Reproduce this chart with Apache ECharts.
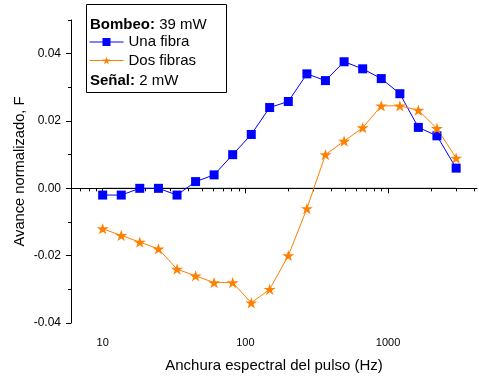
<!DOCTYPE html>
<html>
<head>
<meta charset="utf-8">
<script src="https://cdn.jsdelivr.net/npm/echarts@6/dist/echarts.min.js"></script>
<style>html,body{margin:0;padding:0;background:#fff}#c{width:479px;height:378px}</style>
</head>
<body>
<div id="c"></div>
<script>
var freqs = [10, 13.5, 18.2, 24.6, 33.2, 44.8, 60.4, 81.5, 110, 148, 200, 270, 364, 492, 664, 896, 1210, 1630, 2200, 3000];
var unaFibra = [-0.002, -0.002, 0.000, 0.000, -0.002, 0.002, 0.004, 0.010, 0.016, 0.024, 0.0258, 0.034, 0.032, 0.0376, 0.0355, 0.0326, 0.0281, 0.0181, 0.0156, 0.006];
var dosFibras = [-0.012, -0.014, -0.016, -0.018, -0.024, -0.026, -0.028, -0.028, -0.034, -0.030, -0.020, -0.006, 0.010, 0.014, 0.018, 0.0245, 0.0245, 0.0232, 0.0178, 0.009];
var zeroLineX = [10, 3000];
var zeroLineY = [0, 0];
var xMajorTicks = [10, 100, 1000];
var xMinorTicks = [6, 7, 8, 9, 20, 30, 40, 50, 60, 70, 80, 90, 200, 300, 400, 500, 600, 700, 800, 900, 2000, 3000, 4000];
var yMajorTicks = [-0.04, -0.02, 0, 0.02, 0.04];
var yMinorTicks = [-0.03, -0.01, 0.01, 0.03, 0.05];
var seriesNames = ['Una fibra', 'Dos fibras'];

function pairs(xs, ys) { return xs.map(function (x, i) { return [x, ys[i]]; }); }

var star = 'path://M50,0 L61.8,35.1 L100,35.1 L69.1,57.3 L80.9,93.3 L50,71 L19.1,93.3 L30.9,57.3 L0,35.1 L38.2,35.1 Z';
var FONT = 'Liberation Sans, Arial, sans-serif';

var chart = echarts.init(document.getElementById('c'), null, {renderer: 'canvas'});
chart.setOption({
  animation: false,
  backgroundColor: '#fff',
  textStyle: {fontFamily: FONT},
  grid: {left: 71, right: 2, top: 20, bottom: 52, containLabel: false},
  xAxis: [{
    type: 'log', logBase: 10, min: 6, max: 4200,
    name: 'Anchura espectral del pulso (Hz)', nameLocation: 'middle', nameGap: 35,
    nameTextStyle: {fontSize: 15, color: '#000', fontFamily: FONT},
    axisLine: {show: true, lineStyle: {color: '#000', width: 1}},
    axisTick: {show: true, inside: false, length: 5, customValues: xMajorTicks, lineStyle: {color: '#000'}},
    axisLabel: {show: true, customValues: xMajorTicks, fontSize: 11, color: '#000', margin: 14, fontFamily: FONT,
      formatter: function (v) { return String(Math.round(v)); }},
    splitLine: {show: false}
  }, {
    type: 'log', logBase: 10, min: 6, max: 4200, position: 'bottom',
    axisLine: {show: false},
    axisTick: {show: true, length: 3, customValues: xMinorTicks, lineStyle: {color: '#000'}},
    axisLabel: {show: false},
    splitLine: {show: false}
  }],
  yAxis: [{
    type: 'value', min: -0.04, max: 0.05,
    name: 'Avance normalizado, F', nameLocation: 'middle', nameGap: 44, nameRotate: 90,
    nameMoveOverlap: false,
    nameTextStyle: {fontSize: 14.7, color: '#000', fontFamily: FONT},
    axisLine: {show: true, lineStyle: {color: '#000', width: 1}},
    axisTick: {show: true, length: 5, customValues: yMajorTicks, lineStyle: {color: '#000'}},
    axisLabel: {show: true, customValues: yMajorTicks, fontSize: 12, color: '#000', margin: 10, fontFamily: FONT,
      formatter: function (v) { return v.toFixed(2); }},
    splitLine: {show: false}
  }, {
    type: 'value', min: -0.04, max: 0.05, position: 'left', offset: 0,
    axisLine: {show: false},
    axisTick: {show: true, length: 3, customValues: yMinorTicks, lineStyle: {color: '#000'}},
    axisLabel: {show: false},
    splitLine: {show: false}
  }],
  legend: {
    data: seriesNames, orient: 'vertical', left: 89, top: 34.5, padding: 0,
    itemWidth: 34, itemHeight: 10, itemGap: 3.5,
    lineStyle: {width: 1},
    textStyle: {fontSize: 15, color: '#000', fontFamily: FONT, padding: [0, 0, 0, 0]}
  },
  graphic: [{
    type: 'rect', z: 1, silent: true,
    shape: {x: 86.5, y: 4.5, width: 140, height: 88},
    style: {fill: '#fff', stroke: '#000', lineWidth: 1}
  }, {
    type: 'text', z: 5, left: 90, top: 17.5,
    style: {text: '{b|Bombeo:} 39 mW', fontSize: 15, fill: '#000', fontFamily: FONT,
      rich: {b: {fontWeight: 'bold', fontSize: 15, fontFamily: FONT}}}
  }, {
    type: 'text', z: 5, left: 90, top: 73.5,
    style: {text: '{b|Señal:} 2 mW', fontSize: 15, fill: '#000', fontFamily: FONT,
      rich: {b: {fontWeight: 'bold', fontSize: 15, fontFamily: FONT}}}
  }],
  series: [{
    name: 'zero', type: 'line', data: pairs(zeroLineX, zeroLineY), symbol: 'none',
    lineStyle: {color: '#000', width: 1}, z: 1, silent: true
  }, {
    name: seriesNames[0], type: 'line', data: pairs(freqs, unaFibra),
    symbol: 'rect', symbolSize: 9,
    itemStyle: {color: '#0000ff'}, lineStyle: {color: '#0000ff', width: 1}
  }, {
    name: seriesNames[1], type: 'line', data: pairs(freqs, dosFibras),
    symbol: star, symbolSize: 12, symbolKeepAspect: true,
    itemStyle: {color: '#ff8000'}, lineStyle: {color: '#ff8000', width: 1}
  }]
});
</script>
</body>
</html>
